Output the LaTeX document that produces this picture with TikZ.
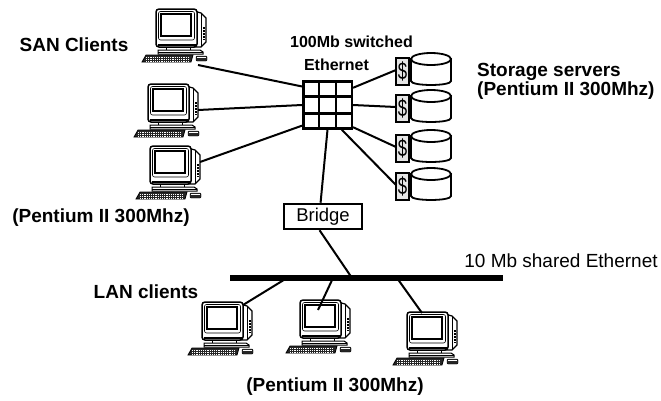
\documentclass[tikz,border=0pt]{standalone}
\usepackage{fontspec}
\setmainfont{Liberation Sans}
\usetikzlibrary{calc}

\tikzset{
  wire/.style={line width=2pt},
  lbl/.style={inner sep=0pt, font=\fontsize{19}{19}\bfseries\selectfont},
  smalllbl/.style={inner sep=0pt, font=\fontsize{16}{18}\bfseries\selectfont},
  switchbox/.style={draw, fill=white, line width=2.5pt, minimum width=48.5pt,
    minimum height=47pt, inner sep=0pt},
  bridgebox/.style={draw, fill=white, line width=2.5pt, minimum width=78pt,
    minimum height=25pt, inner sep=0pt, font=\fontsize{18.5}{20}\selectfont},
  % desktop PC: monitor, base, keyboard and mouse
  pics/computer/.style={code={
    \filldraw[fill=white, line width=1.2pt] (38,2) -- (45,4) -- (50,9) -- (50,33)
      -- (45,38) -- (38,38) -- cycle;
    \draw[line width=0.8pt] (45,4) -- (45,38);
    \fill (46.5,18) rectangle (49,31);
    \foreach \v in {20,23,26,29} \draw[white, line width=0.5pt] (46.5,\v) -- (49,\v);
    \filldraw[fill=white, line width=1.5pt, rounded corners=3pt] (0,0) rectangle (41,38);
    \draw[line width=0.6pt, rounded corners=2pt] (2.5,2.5) rectangle (38.5,31);
    \filldraw[fill=white, line width=2pt] (5,5) rectangle (35,27);
    \draw[line width=2.5pt] (1.5,36) -- (39.5,36);
    % stand
    \filldraw[fill=white, line width=1pt] (10,38) rectangle (34,41);
    \filldraw[fill=white, line width=1pt] (2,41) -- (44,41) -- (47,43) -- (47,45)
      -- (2,45) -- cycle;
    \draw[line width=0.6pt] (2,43) -- (47,43);
    % keyboard
    \filldraw[fill=black!85, line width=0.8pt] (-10,46) -- (37,46) -- (35,53)
      -- (-14,53) -- cycle;
    \foreach \r in {48,50,52}
      \draw[white, line width=0.6pt, dash pattern=on 1.2pt off 1pt] (-10,\r) -- (34,\r);
    % mouse
    \filldraw[fill=black!85, rounded corners=1pt] (40,47) rectangle (51,52);
    \draw[white, line width=0.5pt] (41,48.5) -- (50,48.5);
    \coordinate (-mouse) at (42,56);
    \coordinate (-sidehi) at (50,16);
    \coordinate (-sidelo) at (50,26);
    \coordinate (-corner) at (41,3);
    \coordinate (-screen) at (18,10);
    \coordinate (-top) at (15,1);
  }},
  % storage server: adapter card and disk
  pics/server/.style={code={
    \filldraw[fill=black!10, line width=1.2pt] (0,5) rectangle (13,32);
    \node[inner sep=0pt] at (6.5,18.5)
      {\scalebox{0.7}[1]{\fontsize{24}{24}\selectfont\$}};
    \filldraw[fill=white, line width=1.8pt] (15,6) -- (15,28)
      .. controls (15,33.3) and (55,33.3) .. (55,28) -- (55,6) -- cycle;
    \filldraw[fill=white, line width=1.8pt] (35,6) ellipse [x radius=20, y radius=6];
    \coordinate (-port) at (0,17);
  }},
}

\begin{document}
\begin{tikzpicture}[x=1pt, y=-1pt]
\useasboundingbox (0,0) rectangle (661,400);

% SAN side
\pic (san1) at (156,9) {computer};
\pic (san2) at (148,84) {computer};
\pic (san3) at (150,146) {computer};

\node[switchbox] (sw) at (327.5,105) {};
\foreach \f in {0.333,0.667}
{
\draw[line width=2.5pt] ($(sw.north west)!\f!(sw.north east)$) -- ($(sw.south west)!\f!(sw.south east)$);
\draw[line width=2.5pt] ($(sw.north west)!\f!(sw.south west)$) -- ($(sw.north east)!\f!(sw.south east)$);
}

\foreach \i/\y in {1/53,2/90,3/130,4/168}
  \pic (srv\i) at (396,\y) {server};

\draw[wire] (san1-mouse) -- (sw.144);
\draw[wire] (san2-sidelo) -- (sw.west);
\draw[wire] (san3-sidehi) -- (sw.219);

\draw[wire] (sw.34) -- (srv1-port);
\draw[wire] (sw.east) -- (srv2-port);
\draw[wire] (sw.319) -- (srv3-port);
\draw[wire] (sw.300) -- (srv4-port);

% bridge and shared LAN
\node[bridgebox] (br) at (323,216.5) {Bridge};
\draw[wire] (sw.south) -- (br.100);

\coordinate (busW) at (230,278);
\coordinate (busE) at (503,278);
\draw[line width=6pt] (busW) -- (busE);
\coordinate (tapA) at (287,278);
\coordinate (tapB) at (333,278);
\coordinate (tapC) at (397,278);
\coordinate (tapBr) at (352,278);
\draw[wire] (br.256) -- (tapBr);

\pic (lanA) at (202,302) {computer};
\pic (lanB) at (300,300) {computer};
\pic (lanC) at (407,312) {computer};

\draw[wire] (tapA) -- (lanA-corner);
\draw[wire] (tapB) -- (lanB-screen);
\draw[wire] (tapC) -- (lanC-top);

% labels
\node[lbl] (sanlbl) at (74,45) {SAN Clients};
\node[lbl] (sancpu) at (101,218) {(Pentium II 300Mhz)};
\node[smalllbl] (swlbl) at (351.5,42) {100Mb switched};
\node[smalllbl] (swlbl2) at (336.5,65) {Ethernet};
\node[lbl, anchor=west, align=left] (srvlbl) at (477,81) {Storage servers\\(Pentium II 300Mhz)};
\node[inner sep=0pt, font=\fontsize{19}{21}\selectfont] (buslbl) at (561,261) {10 Mb shared Ethernet};
\node[lbl] (lanlbl) at (146,291.5) {LAN clients};
\node[lbl] (lancpu) at (335,387) {(Pentium II 300Mhz)};
\end{tikzpicture}
\end{document}
